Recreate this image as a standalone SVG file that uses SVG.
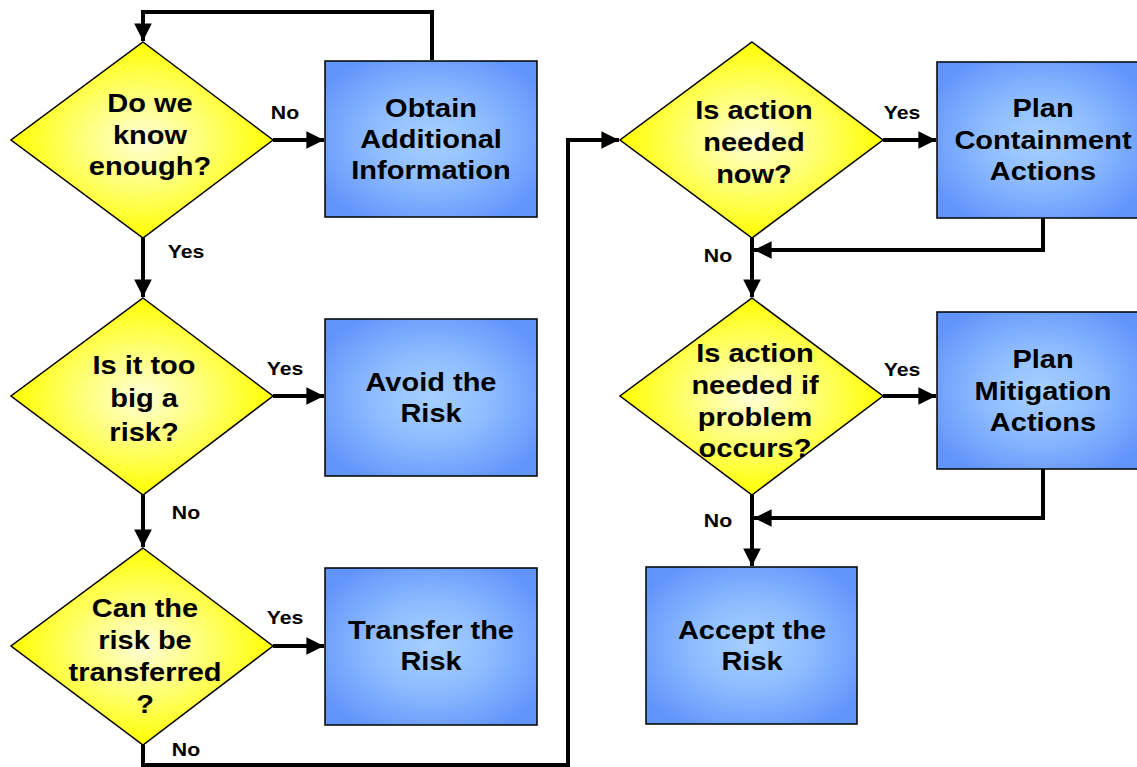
<svg xmlns="http://www.w3.org/2000/svg" width="1137" height="767" viewBox="0 0 1137 767">
<defs>
<radialGradient id="gBox" cx="50%" cy="50%" r="60%">
<stop offset="0" stop-color="#a6d0ff"/>
<stop offset="0.45" stop-color="#8fbcff"/>
<stop offset="1" stop-color="#6295fb"/>
</radialGradient>
<radialGradient id="gDia" cx="50%" cy="50%" r="50%">
<stop offset="0" stop-color="#ffffd8"/>
<stop offset="0.5" stop-color="#ffff70"/>
<stop offset="1" stop-color="#ffff00"/>
</radialGradient>
<marker id="arr" viewBox="0 0 10 10" refX="10" refY="5" markerWidth="4.6" markerHeight="4.4" orient="auto" markerUnits="strokeWidth">
<path d="M0,0 L10,5 L0,10 Z" fill="#000"/>
</marker>
</defs>
<style>
.box{fill:url(#gBox);stroke:#000;stroke-width:1.5}
.dia{fill:url(#gDia);stroke:#000;stroke-width:1.5}
.t{font-family:"Liberation Sans",Arial,sans-serif;font-weight:bold;font-size:25px;text-anchor:middle;fill:#000}
.l{font-family:"Liberation Sans",Arial,sans-serif;font-weight:bold;font-size:18px;text-anchor:middle;fill:#000}
.c{fill:none;stroke:#000;stroke-width:4}
</style>
<rect width="1137" height="767" fill="#fff"/>

<g id="connectors">
<path class="c" d="M432,60 V12 H143 V41" marker-end="url(#arr)"/>
<path class="c" d="M273,140 H324" marker-end="url(#arr)"/>
<path class="c" d="M143,238 V297" marker-end="url(#arr)"/>
<path class="c" d="M273,396 H324" marker-end="url(#arr)"/>
<path class="c" d="M143,495 V547" marker-end="url(#arr)"/>
<path class="c" d="M273,646 H324" marker-end="url(#arr)"/>
<path class="c" d="M143,745 V765 H568 V140 H619" marker-end="url(#arr)"/>
<path class="c" d="M883,140 H936" marker-end="url(#arr)"/>
<path class="c" d="M1043,218 V250 H754" marker-end="url(#arr)"/>
<path class="c" d="M752,238 V297" marker-end="url(#arr)"/>
<path class="c" d="M883,396 H936" marker-end="url(#arr)"/>
<path class="c" d="M1043,469 V518 H754" marker-end="url(#arr)"/>
<path class="c" d="M752,495 V566" marker-end="url(#arr)"/>
<g transform="translate(285,119) scale(1.18,1)"><text class="l" x="0" y="0">No</text></g>
<g transform="translate(186,258) scale(1.18,1)"><text class="l" x="0" y="0">Yes</text></g>
<g transform="translate(285,375) scale(1.18,1)"><text class="l" x="0" y="0">Yes</text></g>
<g transform="translate(186,519) scale(1.18,1)"><text class="l" x="0" y="0">No</text></g>
<g transform="translate(285,624) scale(1.18,1)"><text class="l" x="0" y="0">Yes</text></g>
<g transform="translate(186,756) scale(1.18,1)"><text class="l" x="0" y="0">No</text></g>
<g transform="translate(902,119) scale(1.18,1)"><text class="l" x="0" y="0">Yes</text></g>
<g transform="translate(718,262) scale(1.18,1)"><text class="l" x="0" y="0">No</text></g>
<g transform="translate(902,376) scale(1.18,1)"><text class="l" x="0" y="0">Yes</text></g>
<g transform="translate(718,527) scale(1.18,1)"><text class="l" x="0" y="0">No</text></g>
</g>

<g id="d1">
<polygon class="dia" points="143,42 273,140 143,238 11,140"/>
<g transform="translate(150,0) scale(1.16,1)">
<text class="t" x="0" y="112">Do we</text>
<text class="t" x="0" y="144">know</text>
<text class="t" x="0" y="175">enough?</text>
</g>
</g>
<g id="b1">
<rect class="box" x="325" y="61" width="212" height="156"/>
<g transform="translate(431,0) scale(1.16,1)">
<text class="t" x="0" y="117">Obtain</text>
<text class="t" x="0" y="148">Additional</text>
<text class="t" x="0" y="179">Information</text>
</g>
</g>
<g id="d2">
<polygon class="dia" points="143,298 273,396 143,495 11,396"/>
<g transform="translate(144,0) scale(1.16,1)">
<text class="t" x="0" y="374">Is it too</text>
<text class="t" x="0" y="407">big a</text>
<text class="t" x="0" y="441">risk?</text>
</g>
</g>
<g id="b2">
<rect class="box" x="325" y="319" width="212" height="157"/>
<g transform="translate(431,0) scale(1.16,1)">
<text class="t" x="0" y="391">Avoid the</text>
<text class="t" x="0" y="422">Risk</text>
</g>
</g>
<g id="d3">
<polygon class="dia" points="143,548 273,646 143,745 11,646"/>
<g transform="translate(145,0) scale(1.16,1)">
<text class="t" x="0" y="617">Can the</text>
<text class="t" x="0" y="649">risk be</text>
<text class="t" x="0" y="681">transferred</text>
<text class="t" x="0" y="713">?</text>
</g>
</g>
<g id="b3">
<rect class="box" x="325" y="568" width="212" height="157"/>
<g transform="translate(431,0) scale(1.16,1)">
<text class="t" x="0" y="639">Transfer the</text>
<text class="t" x="0" y="670">Risk</text>
</g>
</g>
<g id="d4">
<polygon class="dia" points="752,42 883,140 752,238 620,140"/>
<g transform="translate(754,0) scale(1.16,1)">
<text class="t" x="0" y="119">Is action</text>
<text class="t" x="0" y="151">needed</text>
<text class="t" x="0" y="183">now?</text>
</g>
</g>
<g id="b4">
<rect class="box" x="937" y="62" width="205" height="156"/>
<g transform="translate(1043,0) scale(1.16,1)">
<text class="t" x="0" y="117">Plan</text>
<text class="t" x="0" y="149">Containment</text>
<text class="t" x="0" y="180">Actions</text>
</g>
</g>
<g id="d5">
<polygon class="dia" points="752,298 883,396 752,495 620,396"/>
<g transform="translate(755,0) scale(1.16,1)">
<text class="t" x="0" y="362">Is action</text>
<text class="t" x="0" y="394">needed if</text>
<text class="t" x="0" y="426">problem</text>
<text class="t" x="0" y="457">occurs?</text>
</g>
</g>
<g id="b5">
<rect class="box" x="937" y="312" width="205" height="157"/>
<g transform="translate(1043,0) scale(1.16,1)">
<text class="t" x="0" y="368">Plan</text>
<text class="t" x="0" y="400">Mitigation</text>
<text class="t" x="0" y="431">Actions</text>
</g>
</g>
<g id="b6">
<rect class="box" x="646" y="567" width="211" height="157"/>
<g transform="translate(752,0) scale(1.16,1)">
<text class="t" x="0" y="639">Accept the</text>
<text class="t" x="0" y="670">Risk</text>
</g>
</g>
</svg>
